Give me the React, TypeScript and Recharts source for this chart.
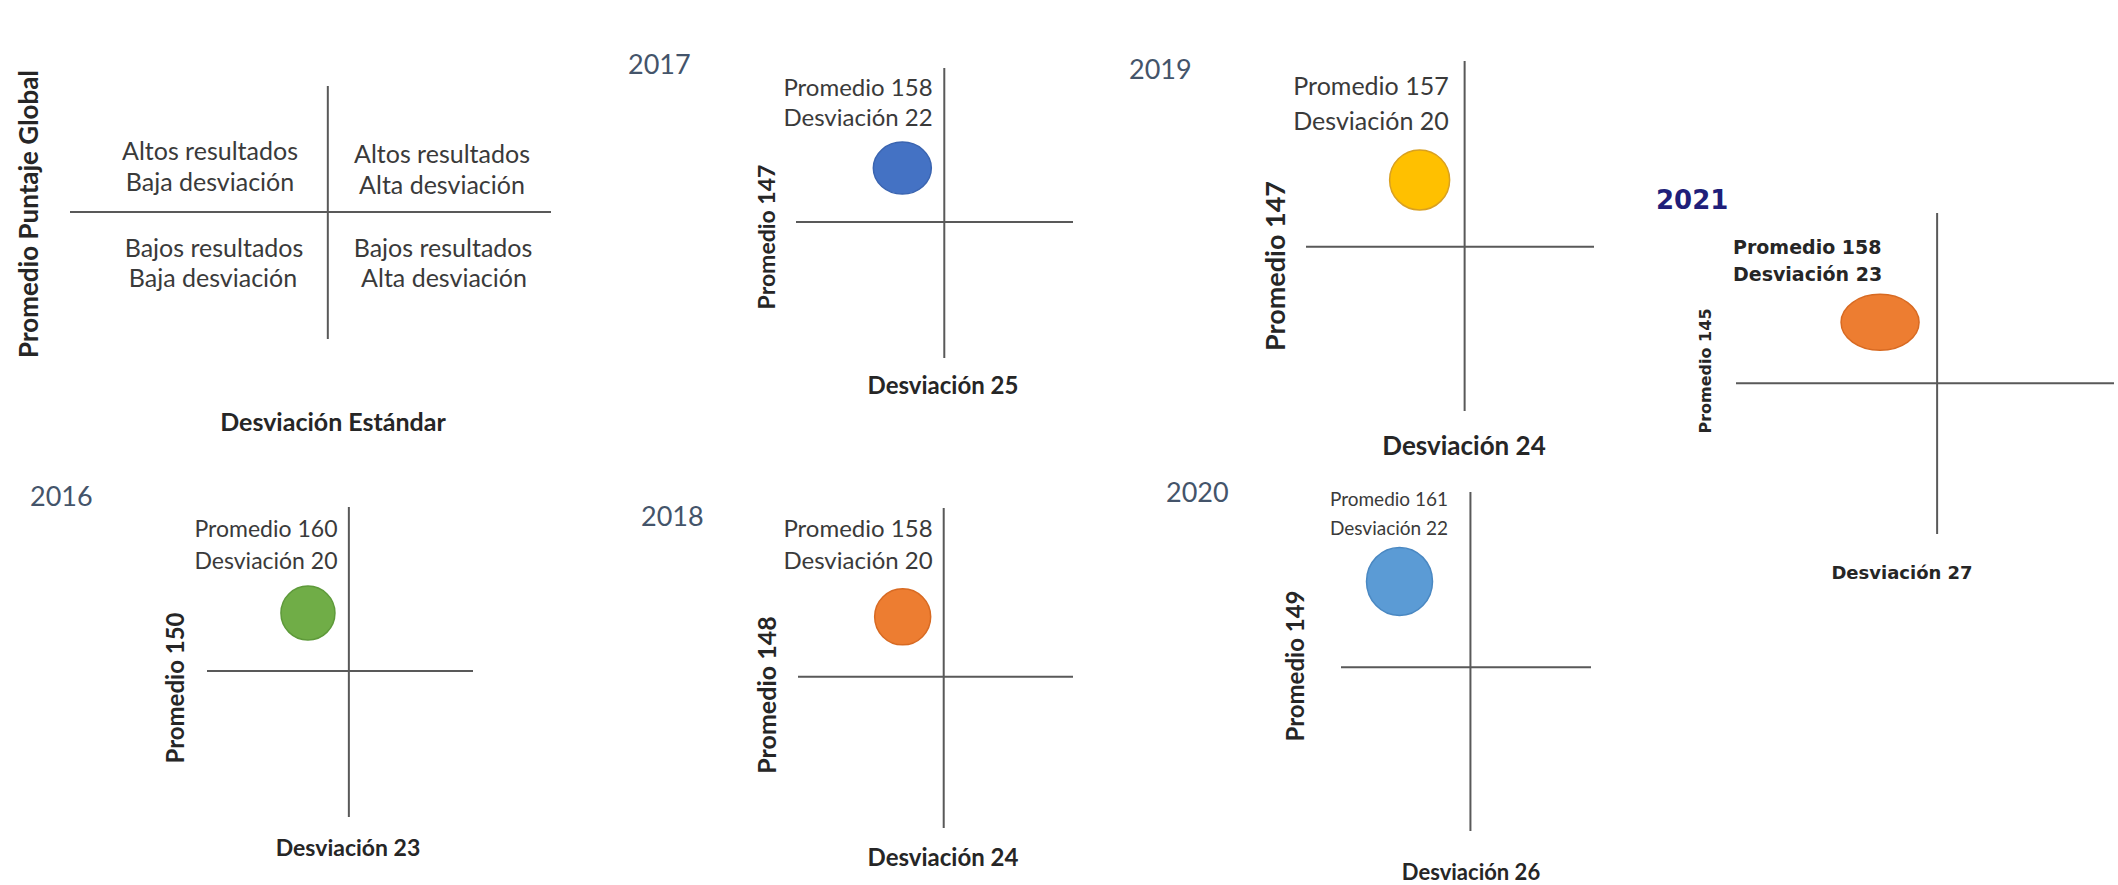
import React from "react";
import { ScatterChart, Scatter, XAxis, YAxis, ReferenceLine } from "recharts";

// Resultados por año: promedio y desviación del colegio frente al punto de corte
const years = ["2016", "2017", "2018", "2019", "2020", "2021"];
const promedio = [160, 158, 158, 157, 161, 158];
const desviacion = [20, 22, 20, 20, 22, 23];
const promedioCorte = [150, 147, 148, 147, 149, 145];
const desviacionCorte = [23, 25, 24, 24, 26, 27];

// Cuadrantes de la guía
const quadrantTop = [
  ["Altos resultados", "Baja desviación"],
  ["Altos resultados", "Alta desviación"],
];
const quadrantBottom = [
  ["Bajos resultados", "Baja desviación"],
  ["Bajos resultados", "Alta desviación"],
];
const guideYLabel = "Promedio Puntaje Global";
const guideXLabel = "Desviación Estándar";

const LINE = "#595959";
const SANS = "Lato, 'Open Sans', sans-serif";
const VERDANA = "'DejaVu Sans', sans-serif";

// Posición y estilo de cada panel en la página
const layout = [
  { box: [207, 507, 266, 310], xDomain: [12.6, 32.1], yDomain: [124.8, 178.3], rx: 27, ry: 27,
    fill: "#70AD47", edge: "#5E9A3A", title: [30, 495], note: [266, 528, 560], side: [175, 688], bottom: [348, 847],
    fs: [23, 23, 24] },
  { box: [796, 68, 277, 290], xDomain: [14.4, 34.2], yDomain: [119.3, 178.4], rx: 29, ry: 26,
    fill: "#4472C4", edge: "#3A64B0", title: [628, 63], note: [858, 87, 117], side: [766, 237], bottom: [943, 385],
    fs: [24, 24, 23] },
  { box: [798, 508, 275, 320], xDomain: [9.8, 36.6], yDomain: [122.7, 176.2], rx: 28, ry: 28,
    fill: "#ED7D31", edge: "#D86A22", title: [641, 515], note: [858, 528, 560], side: [766, 695], bottom: [943, 857],
    fs: [24, 24, 25] },
  { box: [1306, 61, 288, 350], xDomain: [9.9, 35.5], yDomain: [122.4, 174.8], rx: 30, ry: 30,
    fill: "#FFC000", edge: "#D9A020", title: [1129, 68], note: [1371, 85, 120], side: [1274, 266], bottom: [1464, 445],
    fs: [25, 26, 27] },
  { box: [1341, 492, 250, 339], xDomain: [18.7, 32.8], yDomain: [126.1, 173.5], rx: 33, ry: 34,
    fill: "#5B9BD5", edge: "#4A88C2", title: [1166, 491], note: [1389, 498, 527], side: [1295, 666], bottom: [1471, 872],
    fs: [19, 22, 24] },
  { box: [1736, 213, 378, 321], xDomain: [12.9, 39.4], yDomain: [112.9, 181.3], rx: 39, ry: 28,
    fill: "#ED7D31", edge: "#D86A22", title: [1656, 200], note: [1733, 247, 274], side: [1706, 371], bottom: [1902, 573],
    fs: [19, 18, 16] },
];

function Txt({
  x,
  y,
  children,
  style,
  align = "center",
  rotate = false,
}: {
  x: number;
  y: number;
  children: React.ReactNode;
  style?: React.CSSProperties;
  align?: "center" | "left";
  rotate?: boolean;
}) {
  const shift = align === "left" ? "translate(0,-50%)" : "translate(-50%,-50%)";
  return (
    <div
      style={{
        position: "absolute",
        left: x,
        top: y,
        transform: shift + (rotate ? " rotate(-90deg)" : ""),
        whiteSpace: "nowrap",
        lineHeight: 1,
        ...style,
      }}
    >
      {children}
    </div>
  );
}

function Cross({
  box,
  xDomain,
  yDomain,
  xCut,
  yCut,
  children,
}: {
  box: number[];
  xDomain: number[];
  yDomain: number[];
  xCut: number;
  yCut: number;
  children?: React.ReactNode;
}) {
  return (
    <div style={{ position: "absolute", left: box[0], top: box[1] }}>
      <ScatterChart width={box[2]} height={box[3]} margin={{ top: 0, right: 0, bottom: 0, left: 0 }}>
        <XAxis type="number" dataKey="x" domain={xDomain} hide allowDataOverflow />
        <YAxis type="number" dataKey="y" domain={yDomain} hide allowDataOverflow />
        <ReferenceLine x={xCut} stroke={LINE} strokeWidth={2} />
        <ReferenceLine y={yCut} stroke={LINE} strokeWidth={2} />
        {children}
      </ScatterChart>
    </div>
  );
}

function YearPanel({ i }: { i: number }) {
  const L = layout[i];
  const last = i === years.length - 1;
  const data = [{ x: desviacion[i], y: promedio[i] }];
  const noteStyle: React.CSSProperties = last
    ? { fontFamily: VERDANA, fontWeight: 700, fontSize: L.fs[0], color: "#262626" }
    : { fontFamily: SANS, fontSize: L.fs[0], color: "#3a3a3a" };
  const boldFont = last ? VERDANA : SANS;
  return (
    <>
      <Txt
        x={L.title[0]}
        y={L.title[1]}
        align="left"
        style={
          last
            ? { fontFamily: VERDANA, fontWeight: 700, fontSize: 26, color: "#1F1F7A" }
            : { fontFamily: SANS, fontSize: 27, color: "#44546A" }
        }
      >
        {years[i]}
      </Txt>
      <Cross box={L.box} xDomain={L.xDomain} yDomain={L.yDomain} xCut={desviacionCorte[i]} yCut={promedioCorte[i]}>
        <Scatter
          data={data}
          isAnimationActive={false}
          shape={(p: any) => (
            <ellipse cx={p.cx} cy={p.cy} rx={L.rx} ry={L.ry} fill={L.fill} stroke={L.edge} strokeWidth={1.5} />
          )}
        />
      </Cross>
      <Txt x={L.note[0]} y={L.note[1]} align={last ? "left" : "center"} style={noteStyle}>
        {`Promedio ${promedio[i]}`}
      </Txt>
      <Txt x={L.note[0]} y={L.note[2]} align={last ? "left" : "center"} style={noteStyle}>
        {`Desviación ${desviacion[i]}`}
      </Txt>
      <Txt
        x={L.side[0]}
        y={L.side[1]}
        rotate
        style={{ fontFamily: boldFont, fontWeight: 700, fontSize: L.fs[2], color: "#262626" }}
      >
        {`Promedio ${promedioCorte[i]}`}
      </Txt>
      <Txt
        x={L.bottom[0]}
        y={L.bottom[1]}
        style={{ fontFamily: boldFont, fontWeight: 700, fontSize: L.fs[1], color: "#262626" }}
      >
        {`Desviación ${desviacionCorte[i]}`}
      </Txt>
    </>
  );
}

function Guide() {
  const q: React.CSSProperties = { fontFamily: SANS, fontSize: 25, color: "#3a3a3a" };
  const b: React.CSSProperties = { fontFamily: SANS, fontWeight: 700, fontSize: 25, color: "#262626" };
  return (
    <>
      <Cross box={[70, 86, 481, 253]} xDomain={[0, 1]} yDomain={[0, 1]} xCut={0.536} yCut={0.502}>
        <Scatter data={[]} isAnimationActive={false} />
      </Cross>
      <Txt x={210} y={150} style={q}>{quadrantTop[0][0]}</Txt>
      <Txt x={210} y={181} style={q}>{quadrantTop[0][1]}</Txt>
      <Txt x={442} y={153} style={q}>{quadrantTop[1][0]}</Txt>
      <Txt x={442} y={184} style={q}>{quadrantTop[1][1]}</Txt>
      <Txt x={214} y={247} style={q}>{quadrantBottom[0][0]}</Txt>
      <Txt x={213} y={277} style={q}>{quadrantBottom[0][1]}</Txt>
      <Txt x={443} y={247} style={q}>{quadrantBottom[1][0]}</Txt>
      <Txt x={444} y={277} style={q}>{quadrantBottom[1][1]}</Txt>
      <Txt x={28} y={214} rotate style={{ ...b, fontSize: 26 }}>{guideYLabel}</Txt>
      <Txt x={333} y={421} style={b}>{guideXLabel}</Txt>
    </>
  );
}

export default function App() {
  return (
    <div
      style={{
        position: "absolute",
        left: 0,
        top: 0,
        width: 2118,
        height: 885,
        background: "#ffffff",
        overflow: "hidden",
      }}
    >
      <Guide />
      {years.map((_, i) => (
        <YearPanel key={i} i={i} />
      ))}
    </div>
  );
}
